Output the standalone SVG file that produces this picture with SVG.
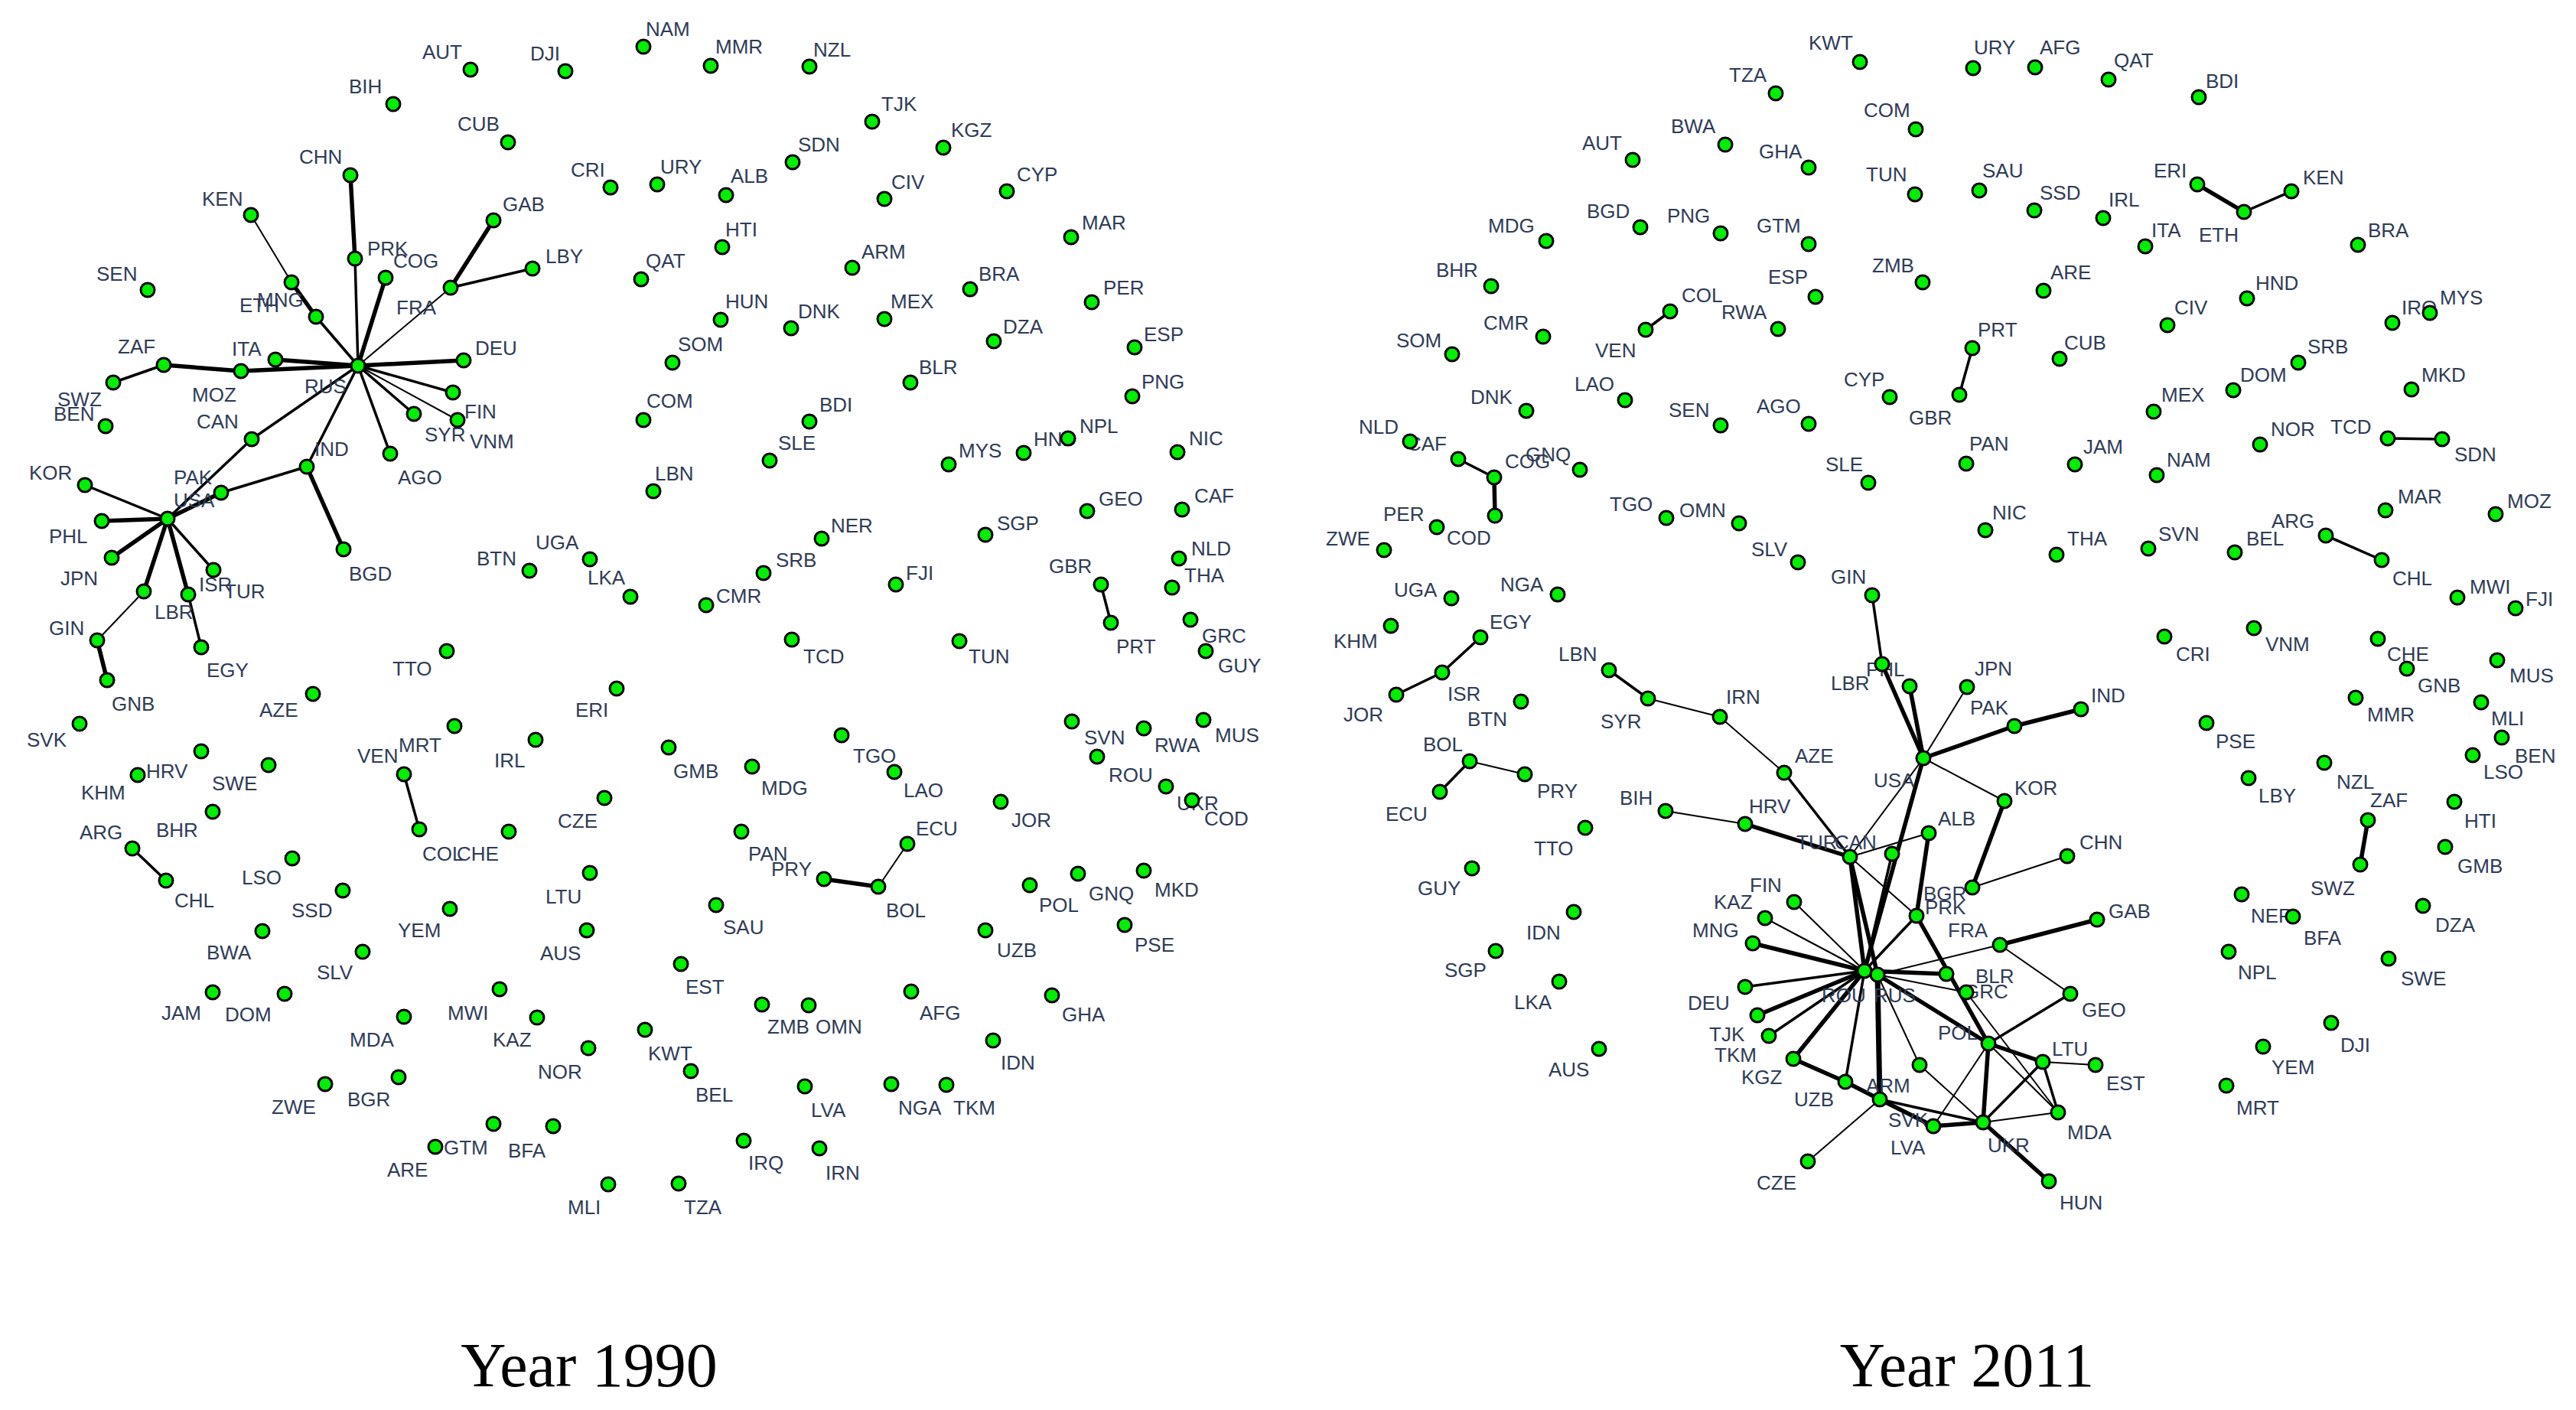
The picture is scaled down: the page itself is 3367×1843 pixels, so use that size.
<svg xmlns="http://www.w3.org/2000/svg" width="3367" height="1843" viewBox="0 0 3367 1843">
<style>
.e line{stroke:#000;stroke-linecap:round}
.s{stroke-width:2}
.m{stroke-width:3.5}
.t{stroke-width:5.5}
.n circle{fill:#00ee00;stroke:#000;stroke-width:3}
.n text{font-family:"Liberation Sans",Arial,sans-serif;font-size:26px;fill:#2e3b57}
.cap{font-family:"Liberation Serif","Times New Roman",serif;font-size:82px;fill:#000;text-anchor:middle}
</style>
<rect width="3367" height="1843" fill="#fff"/>
<g id="edges-1990" class="e">
<line class="t" x1="458" y1="229" x2="464" y2="338"/>
<line class="m" x1="464" y1="338" x2="468" y2="478"/>
<line class="t" x1="504" y1="363" x2="468" y2="478"/>
<line class="s" x1="589" y1="376" x2="468" y2="478"/>
<line class="t" x1="589" y1="376" x2="645" y2="288"/>
<line class="m" x1="589" y1="376" x2="696" y2="351"/>
<line class="s" x1="328" y1="281" x2="381" y2="369"/>
<line class="t" x1="381" y1="369" x2="413" y2="414"/>
<line class="m" x1="413" y1="414" x2="468" y2="478"/>
<line class="t" x1="360" y1="470" x2="468" y2="478"/>
<line class="t" x1="315" y1="485" x2="468" y2="478"/>
<line class="t" x1="214" y1="477" x2="315" y2="485"/>
<line class="m" x1="214" y1="477" x2="148" y2="500"/>
<line class="t" x1="606" y1="471" x2="468" y2="478"/>
<line class="m" x1="592" y1="513" x2="468" y2="478"/>
<line class="s" x1="598" y1="549" x2="468" y2="478"/>
<line class="m" x1="541" y1="541" x2="468" y2="478"/>
<line class="m" x1="510" y1="593" x2="468" y2="478"/>
<line class="m" x1="401" y1="610" x2="468" y2="478"/>
<line class="m" x1="329" y1="574" x2="468" y2="478"/>
<line class="m" x1="219" y1="678" x2="329" y2="574"/>
<line class="t" x1="219" y1="678" x2="289" y2="644"/>
<line class="m" x1="289" y1="644" x2="401" y2="610"/>
<line class="t" x1="401" y1="610" x2="449" y2="718"/>
<line class="m" x1="219" y1="678" x2="111" y2="634"/>
<line class="t" x1="219" y1="678" x2="133" y2="681"/>
<line class="t" x1="219" y1="678" x2="146" y2="729"/>
<line class="t" x1="219" y1="678" x2="188" y2="773"/>
<line class="t" x1="219" y1="678" x2="246" y2="777"/>
<line class="m" x1="219" y1="678" x2="279" y2="745"/>
<line class="s" x1="188" y1="773" x2="127" y2="837"/>
<line class="t" x1="127" y1="837" x2="140" y2="889"/>
<line class="m" x1="246" y1="777" x2="263" y2="846"/>
<line class="m" x1="173" y1="1109" x2="217" y2="1151"/>
<line class="m" x1="528" y1="1012" x2="548" y2="1084"/>
<line class="m" x1="1439" y1="764" x2="1452" y2="814"/>
<line class="t" x1="1077" y1="1149" x2="1148" y2="1159"/>
<line class="s" x1="1148" y1="1159" x2="1186" y2="1103"/>
</g>
<g id="edges-2011" class="e">
<line class="t" x1="2872" y1="241" x2="2933" y2="277"/>
<line class="m" x1="2933" y1="277" x2="2995" y2="250"/>
<line class="m" x1="2183" y1="407" x2="2151" y2="431"/>
<line class="m" x1="2578" y1="455" x2="2561" y2="516"/>
<line class="m" x1="1906" y1="600" x2="1953" y2="624"/>
<line class="t" x1="1953" y1="624" x2="1954" y2="674"/>
<line class="m" x1="3121" y1="573" x2="3192" y2="574"/>
<line class="m" x1="3040" y1="700" x2="3113" y2="732"/>
<line class="t" x1="3095" y1="1072" x2="3085" y2="1130"/>
<line class="m" x1="1935" y1="833" x2="1885" y2="879"/>
<line class="m" x1="1885" y1="879" x2="1825" y2="908"/>
<line class="m" x1="2103" y1="876" x2="2154" y2="913"/>
<line class="s" x1="2154" y1="913" x2="2248" y2="937"/>
<line class="s" x1="1921" y1="995" x2="1993" y2="1012"/>
<line class="m" x1="1921" y1="995" x2="1882" y2="1035"/>
<line class="s" x1="2177" y1="1060" x2="2281" y2="1077"/>
<line class="m" x1="2447" y1="778" x2="2460" y2="868"/>
<line class="t" x1="2460" y1="868" x2="2514" y2="991"/>
<line class="t" x1="2496" y1="897" x2="2514" y2="991"/>
<line class="s" x1="2571" y1="898" x2="2514" y2="991"/>
<line class="t" x1="2633" y1="949" x2="2514" y2="991"/>
<line class="t" x1="2633" y1="949" x2="2720" y2="927"/>
<line class="s" x1="2514" y1="991" x2="2620" y2="1047"/>
<line class="s" x1="2514" y1="991" x2="2418" y2="1120"/>
<line class="t" x1="2514" y1="991" x2="2437" y2="1269"/>
<line class="m" x1="2473" y1="1116" x2="2437" y2="1269"/>
<line class="s" x1="2418" y1="1120" x2="2521" y2="1089"/>
<line class="t" x1="2521" y1="1089" x2="2505" y2="1197"/>
<line class="s" x1="2248" y1="937" x2="2332" y2="1010"/>
<line class="m" x1="2332" y1="1010" x2="2418" y2="1120"/>
<line class="t" x1="2281" y1="1077" x2="2418" y2="1120"/>
<line class="t" x1="2418" y1="1120" x2="2437" y2="1269"/>
<line class="t" x1="2418" y1="1120" x2="2454" y2="1274"/>
<line class="s" x1="2418" y1="1120" x2="2505" y2="1197"/>
<line class="t" x1="2620" y1="1047" x2="2578" y2="1160"/>
<line class="s" x1="2702" y1="1119" x2="2578" y2="1160"/>
<line class="s" x1="2345" y1="1179" x2="2437" y2="1269"/>
<line class="s" x1="2307" y1="1200" x2="2437" y2="1269"/>
<line class="t" x1="2291" y1="1233" x2="2437" y2="1269"/>
<line class="m" x1="2281" y1="1290" x2="2437" y2="1269"/>
<line class="t" x1="2297" y1="1327" x2="2437" y2="1269"/>
<line class="m" x1="2312" y1="1354" x2="2437" y2="1269"/>
<line class="t" x1="2344" y1="1384" x2="2437" y2="1269"/>
<line class="m" x1="2412" y1="1414" x2="2437" y2="1269"/>
<line class="t" x1="2344" y1="1384" x2="2412" y2="1414"/>
<line class="t" x1="2412" y1="1414" x2="2457" y2="1437"/>
<line class="t" style="stroke-width:7" x1="2457" y1="1437" x2="2454" y2="1274"/>
<line class="s" x1="2457" y1="1437" x2="2363" y2="1518"/>
<line class="t" x1="2457" y1="1437" x2="2527" y2="1472"/>
<line class="t" x1="2527" y1="1472" x2="2592" y2="1467"/>
<line class="m" x1="2457" y1="1437" x2="2592" y2="1467"/>
<line class="s" x1="2454" y1="1274" x2="2509" y2="1392"/>
<line class="s" x1="2509" y1="1392" x2="2592" y2="1467"/>
<line class="m" x1="2505" y1="1197" x2="2437" y2="1269"/>
<line class="t" x1="2505" y1="1197" x2="2599" y2="1364"/>
<line class="t" x1="2437" y1="1269" x2="2544" y2="1273"/>
<line class="s" x1="2454" y1="1274" x2="2570" y2="1297"/>
<line class="s" x1="2454" y1="1274" x2="2614" y2="1235"/>
<line class="t" x1="2614" y1="1235" x2="2741" y2="1202"/>
<line class="s" x1="2614" y1="1235" x2="2706" y2="1299"/>
<line class="m" x1="2706" y1="1299" x2="2599" y2="1364"/>
<line class="s" x1="2599" y1="1364" x2="2527" y2="1472"/>
<line class="t" x1="2454" y1="1274" x2="2599" y2="1364"/>
<line class="t" x1="2599" y1="1364" x2="2670" y2="1388"/>
<line class="s" x1="2670" y1="1388" x2="2739" y2="1392"/>
<line class="s" x1="2599" y1="1364" x2="2690" y2="1454"/>
<line class="t" x1="2599" y1="1364" x2="2592" y2="1467"/>
<line class="m" x1="2592" y1="1467" x2="2670" y2="1388"/>
<line class="m" x1="2670" y1="1388" x2="2690" y2="1454"/>
<line class="s" x1="2592" y1="1467" x2="2690" y2="1454"/>
<line class="t" x1="2592" y1="1467" x2="2678" y2="1544"/>
<line class="s" x1="2570" y1="1297" x2="2690" y2="1454"/>
<line class="t" x1="2437" y1="1269" x2="2454" y2="1274"/>
</g>
<g id="nodes-1990">
<g id="n90-AUT" class="n"><text x="552" y="77">AUT</text><circle cx="615" cy="91" r="9"/></g>
<g id="n90-DJI" class="n"><text x="693" y="79">DJI</text><circle cx="739" cy="93" r="9"/></g>
<g id="n90-NAM" class="n"><text x="844" y="47">NAM</text><circle cx="841" cy="61" r="9"/></g>
<g id="n90-MMR" class="n"><text x="935" y="70">MMR</text><circle cx="929" cy="86" r="9"/></g>
<g id="n90-NZL" class="n"><text x="1063" y="74">NZL</text><circle cx="1058" cy="87" r="9"/></g>
<g id="n90-BIH" class="n"><text x="456" y="122">BIH</text><circle cx="514" cy="136" r="9"/></g>
<g id="n90-CUB" class="n"><text x="598" y="171">CUB</text><circle cx="664" cy="186" r="9"/></g>
<g id="n90-TJK" class="n"><text x="1152" y="145">TJK</text><circle cx="1140" cy="159" r="9"/></g>
<g id="n90-KGZ" class="n"><text x="1243" y="179">KGZ</text><circle cx="1233" cy="193" r="9"/></g>
<g id="n90-CHN" class="n"><text x="391" y="214">CHN</text><circle cx="458" cy="229" r="9"/></g>
<g id="n90-CRI" class="n"><text x="746" y="231">CRI</text><circle cx="798" cy="245" r="9"/></g>
<g id="n90-URY" class="n"><text x="863" y="227">URY</text><circle cx="859" cy="241" r="9"/></g>
<g id="n90-ALB" class="n"><text x="955" y="239">ALB</text><circle cx="949" cy="255" r="9"/></g>
<g id="n90-SDN" class="n"><text x="1043" y="198">SDN</text><circle cx="1036" cy="212" r="9"/></g>
<g id="n90-CYP" class="n"><text x="1329" y="237">CYP</text><circle cx="1316" cy="250" r="9"/></g>
<g id="n90-KEN" class="n"><text x="264" y="269">KEN</text><circle cx="328" cy="281" r="9"/></g>
<g id="n90-GAB" class="n"><text x="657" y="276">GAB</text><circle cx="645" cy="288" r="9"/></g>
<g id="n90-PRK" class="n"><text x="480" y="334">PRK</text><circle cx="464" cy="338" r="9"/></g>
<g id="n90-COG" class="n"><text x="514" y="350">COG</text><circle cx="504" cy="363" r="9"/></g>
<g id="n90-HTI" class="n"><text x="948" y="309">HTI</text><circle cx="944" cy="323" r="9"/></g>
<g id="n90-CIV" class="n"><text x="1165" y="247">CIV</text><circle cx="1156" cy="260" r="9"/></g>
<g id="n90-MAR" class="n"><text x="1414" y="300">MAR</text><circle cx="1400" cy="310" r="9"/></g>
<g id="n90-LBY" class="n"><text x="713" y="344">LBY</text><circle cx="696" cy="351" r="9"/></g>
<g id="n90-ETH" class="n"><text x="313" y="408">ETH</text><circle cx="381" cy="369" r="9"/></g>
<g id="n90-MNG" class="n"><text x="336" y="401">MNG</text><circle cx="413" cy="414" r="9"/></g>
<g id="n90-FRA" class="n"><text x="518" y="411">FRA</text><circle cx="589" cy="376" r="9"/></g>
<g id="n90-QAT" class="n"><text x="844" y="350">QAT</text><circle cx="838" cy="365" r="9"/></g>
<g id="n90-ARM" class="n"><text x="1126" y="338">ARM</text><circle cx="1114" cy="350" r="9"/></g>
<g id="n90-BRA" class="n"><text x="1279" y="367">BRA</text><circle cx="1268" cy="378" r="9"/></g>
<g id="n90-PER" class="n"><text x="1442" y="385">PER</text><circle cx="1427" cy="395" r="9"/></g>
<g id="n90-SEN" class="n"><text x="126" y="367">SEN</text><circle cx="193" cy="379" r="9"/></g>
<g id="n90-HUN" class="n"><text x="948" y="403">HUN</text><circle cx="942" cy="418" r="9"/></g>
<g id="n90-DNK" class="n"><text x="1043" y="416">DNK</text><circle cx="1034" cy="429" r="9"/></g>
<g id="n90-MEX" class="n"><text x="1164" y="403">MEX</text><circle cx="1156" cy="417" r="9"/></g>
<g id="n90-DZA" class="n"><text x="1311" y="436">DZA</text><circle cx="1299" cy="446" r="9"/></g>
<g id="n90-ZAF" class="n"><text x="154" y="462">ZAF</text><circle cx="214" cy="477" r="9"/></g>
<g id="n90-ITA" class="n"><text x="303" y="465">ITA</text><circle cx="360" cy="470" r="9"/></g>
<g id="n90-DEU" class="n"><text x="621" y="464">DEU</text><circle cx="606" cy="471" r="9"/></g>
<g id="n90-SOM" class="n"><text x="886" y="459">SOM</text><circle cx="879" cy="474" r="9"/></g>
<g id="n90-ESP" class="n"><text x="1495" y="446">ESP</text><circle cx="1483" cy="454" r="9"/></g>
<g id="n90-RUS" class="n"><text x="398" y="514">RUS</text><circle cx="468" cy="478" r="9"/></g>
<g id="n90-MOZ" class="n"><text x="251" y="525">MOZ</text><circle cx="315" cy="485" r="9"/></g>
<g id="n90-SWZ" class="n"><text x="75" y="531">SWZ</text><circle cx="148" cy="500" r="9"/></g>
<g id="n90-BEN" class="n"><text x="70" y="550">BEN</text><circle cx="138" cy="557" r="9"/></g>
<g id="n90-CAN" class="n"><text x="257" y="560">CAN</text><circle cx="329" cy="574" r="9"/></g>
<g id="n90-FIN" class="n"><text x="607" y="547">FIN</text><circle cx="592" cy="513" r="9"/></g>
<g id="n90-VNM" class="n"><text x="614" y="586">VNM</text><circle cx="598" cy="549" r="9"/></g>
<g id="n90-SYR" class="n"><text x="555" y="577">SYR</text><circle cx="541" cy="541" r="9"/></g>
<g id="n90-COM" class="n"><text x="845" y="533">COM</text><circle cx="841" cy="549" r="9"/></g>
<g id="n90-BDI" class="n"><text x="1071" y="538">BDI</text><circle cx="1058" cy="551" r="9"/></g>
<g id="n90-BLR" class="n"><text x="1201" y="489">BLR</text><circle cx="1190" cy="500" r="9"/></g>
<g id="n90-PNG" class="n"><text x="1492" y="508">PNG</text><circle cx="1480" cy="518" r="9"/></g>
<g id="n90-IND" class="n"><text x="411" y="596">IND</text><circle cx="401" cy="610" r="9"/></g>
<g id="n90-AGO" class="n"><text x="520" y="633">AGO</text><circle cx="510" cy="593" r="9"/></g>
<g id="n90-SLE" class="n"><text x="1017" y="588">SLE</text><circle cx="1006" cy="602" r="9"/></g>
<g id="n90-HND" class="n"><text x="1351" y="583">HND</text><circle cx="1338" cy="592" r="9"/></g>
<g id="n90-NPL" class="n"><text x="1411" y="566">NPL</text><circle cx="1396" cy="573" r="9"/></g>
<g id="n90-MYS" class="n"><text x="1253" y="598">MYS</text><circle cx="1240" cy="607" r="9"/></g>
<g id="n90-NIC" class="n"><text x="1554" y="582">NIC</text><circle cx="1539" cy="591" r="9"/></g>
<g id="n90-LBN" class="n"><text x="856" y="628">LBN</text><circle cx="854" cy="642" r="9"/></g>
<g id="n90-KOR" class="n"><text x="38" y="627">KOR</text><circle cx="111" cy="634" r="9"/></g>
<g id="n90-USA" class="n"><text x="227" y="663">USA</text><circle cx="219" cy="678" r="9"/></g>
<g id="n90-PAK" class="n"><text x="227" y="633">PAK</text><circle cx="289" cy="644" r="9"/></g>
<g id="n90-GEO" class="n"><text x="1436" y="661">GEO</text><circle cx="1421" cy="668" r="9"/></g>
<g id="n90-CAF" class="n"><text x="1561" y="657">CAF</text><circle cx="1545" cy="666" r="9"/></g>
<g id="n90-PHL" class="n"><text x="64" y="710">PHL</text><circle cx="133" cy="681" r="9"/></g>
<g id="n90-SGP" class="n"><text x="1303" y="693">SGP</text><circle cx="1288" cy="699" r="9"/></g>
<g id="n90-NER" class="n"><text x="1086" y="696">NER</text><circle cx="1074" cy="704" r="9"/></g>
<g id="n90-JPN" class="n"><text x="79" y="765">JPN</text><circle cx="146" cy="729" r="9"/></g>
<g id="n90-BGD" class="n"><text x="456" y="759">BGD</text><circle cx="449" cy="718" r="9"/></g>
<g id="n90-BTN" class="n"><text x="623" y="739">BTN</text><circle cx="692" cy="746" r="9"/></g>
<g id="n90-UGA" class="n"><text x="700" y="718">UGA</text><circle cx="771" cy="731" r="9"/></g>
<g id="n90-SRB" class="n"><text x="1014" y="741">SRB</text><circle cx="998" cy="749" r="9"/></g>
<g id="n90-ISR" class="n"><text x="260" y="773">ISR</text><circle cx="279" cy="745" r="9"/></g>
<g id="n90-TUR" class="n"><text x="293" y="782">TUR</text><circle cx="246" cy="777" r="9"/></g>
<g id="n90-LKA" class="n"><text x="768" y="764">LKA</text><circle cx="824" cy="780" r="9"/></g>
<g id="n90-CMR" class="n"><text x="936" y="788">CMR</text><circle cx="923" cy="791" r="9"/></g>
<g id="n90-FJI" class="n"><text x="1184" y="758">FJI</text><circle cx="1171" cy="764" r="9"/></g>
<g id="n90-GBR" class="n"><text x="1371" y="749">GBR</text><circle cx="1439" cy="764" r="9"/></g>
<g id="n90-NLD" class="n"><text x="1557" y="726">NLD</text><circle cx="1541" cy="730" r="9"/></g>
<g id="n90-THA" class="n"><text x="1548" y="761">THA</text><circle cx="1532" cy="768" r="9"/></g>
<g id="n90-LBR" class="n"><text x="202" y="809">LBR</text><circle cx="188" cy="773" r="9"/></g>
<g id="n90-GIN" class="n"><text x="64" y="830">GIN</text><circle cx="127" cy="837" r="9"/></g>
<g id="n90-EGY" class="n"><text x="270" y="885">EGY</text><circle cx="263" cy="846" r="9"/></g>
<g id="n90-TCD" class="n"><text x="1050" y="867">TCD</text><circle cx="1035" cy="836" r="9"/></g>
<g id="n90-TUN" class="n"><text x="1266" y="867">TUN</text><circle cx="1254" cy="838" r="9"/></g>
<g id="n90-PRT" class="n"><text x="1459" y="854">PRT</text><circle cx="1452" cy="814" r="9"/></g>
<g id="n90-GRC" class="n"><text x="1571" y="840">GRC</text><circle cx="1556" cy="810" r="9"/></g>
<g id="n90-GUY" class="n"><text x="1592" y="879">GUY</text><circle cx="1576" cy="851" r="9"/></g>
<g id="n90-TTO" class="n"><text x="513" y="883">TTO</text><circle cx="584" cy="851" r="9"/></g>
<g id="n90-GNB" class="n"><text x="146" y="929">GNB</text><circle cx="140" cy="889" r="9"/></g>
<g id="n90-AZE" class="n"><text x="339" y="937">AZE</text><circle cx="409" cy="907" r="9"/></g>
<g id="n90-ERI" class="n"><text x="752" y="937">ERI</text><circle cx="806" cy="900" r="9"/></g>
<g id="n90-SVK" class="n"><text x="35" y="976">SVK</text><circle cx="104" cy="946" r="9"/></g>
<g id="n90-SVN" class="n"><text x="1417" y="973">SVN</text><circle cx="1401" cy="943" r="9"/></g>
<g id="n90-MUS" class="n"><text x="1588" y="970">MUS</text><circle cx="1573" cy="941" r="9"/></g>
<g id="n90-RWA" class="n"><text x="1509" y="983">RWA</text><circle cx="1495" cy="952" r="9"/></g>
<g id="n90-HRV" class="n"><text x="191" y="1017">HRV</text><circle cx="263" cy="982" r="9"/></g>
<g id="n90-VEN" class="n"><text x="467" y="997">VEN</text><circle cx="528" cy="1012" r="9"/></g>
<g id="n90-MRT" class="n"><text x="521" y="983">MRT</text><circle cx="594" cy="949" r="9"/></g>
<g id="n90-IRL" class="n"><text x="646" y="1003">IRL</text><circle cx="700" cy="967" r="9"/></g>
<g id="n90-ROU" class="n"><text x="1449" y="1022">ROU</text><circle cx="1434" cy="989" r="9"/></g>
<g id="n90-TGO" class="n"><text x="1115" y="997">TGO</text><circle cx="1100" cy="961" r="9"/></g>
<g id="n90-UKR" class="n"><text x="1538" y="1059">UKR</text><circle cx="1524" cy="1028" r="9"/></g>
<g id="n90-COD" class="n"><text x="1574" y="1079">COD</text><circle cx="1558" cy="1046" r="9"/></g>
<g id="n90-KHM" class="n"><text x="106" y="1045">KHM</text><circle cx="180" cy="1013" r="9"/></g>
<g id="n90-SWE" class="n"><text x="277" y="1033">SWE</text><circle cx="351" cy="1000" r="9"/></g>
<g id="n90-GMB" class="n"><text x="880" y="1017">GMB</text><circle cx="874" cy="977" r="9"/></g>
<g id="n90-MDG" class="n"><text x="995" y="1039">MDG</text><circle cx="983" cy="1002" r="9"/></g>
<g id="n90-LAO" class="n"><text x="1181" y="1042">LAO</text><circle cx="1169" cy="1009" r="9"/></g>
<g id="n90-JOR" class="n"><text x="1322" y="1081">JOR</text><circle cx="1308" cy="1048" r="9"/></g>
<g id="n90-BHR" class="n"><text x="204" y="1094">BHR</text><circle cx="278" cy="1061" r="9"/></g>
<g id="n90-COL" class="n"><text x="552" y="1125">COL</text><circle cx="548" cy="1084" r="9"/></g>
<g id="n90-CHE" class="n"><text x="597" y="1125">CHE</text><circle cx="665" cy="1087" r="9"/></g>
<g id="n90-CZE" class="n"><text x="729" y="1082">CZE</text><circle cx="790" cy="1043" r="9"/></g>
<g id="n90-ECU" class="n"><text x="1197" y="1092">ECU</text><circle cx="1186" cy="1103" r="9"/></g>
<g id="n90-ARG" class="n"><text x="104" y="1097">ARG</text><circle cx="173" cy="1109" r="9"/></g>
<g id="n90-PAN" class="n"><text x="978" y="1125">PAN</text><circle cx="969" cy="1087" r="9"/></g>
<g id="n90-PRY" class="n"><text x="1008" y="1145">PRY</text><circle cx="1077" cy="1149" r="9"/></g>
<g id="n90-CHL" class="n"><text x="228" y="1186">CHL</text><circle cx="217" cy="1151" r="9"/></g>
<g id="n90-LSO" class="n"><text x="316" y="1156">LSO</text><circle cx="382" cy="1122" r="9"/></g>
<g id="n90-LTU" class="n"><text x="713" y="1181">LTU</text><circle cx="771" cy="1141" r="9"/></g>
<g id="n90-BOL" class="n"><text x="1158" y="1199">BOL</text><circle cx="1148" cy="1159" r="9"/></g>
<g id="n90-POL" class="n"><text x="1358" y="1192">POL</text><circle cx="1346" cy="1157" r="9"/></g>
<g id="n90-GNQ" class="n"><text x="1423" y="1177">GNQ</text><circle cx="1409" cy="1142" r="9"/></g>
<g id="n90-MKD" class="n"><text x="1509" y="1172">MKD</text><circle cx="1495" cy="1138" r="9"/></g>
<g id="n90-SSD" class="n"><text x="381" y="1199">SSD</text><circle cx="448" cy="1164" r="9"/></g>
<g id="n90-YEM" class="n"><text x="520" y="1225">YEM</text><circle cx="588" cy="1188" r="9"/></g>
<g id="n90-SAU" class="n"><text x="945" y="1221">SAU</text><circle cx="936" cy="1183" r="9"/></g>
<g id="n90-UZB" class="n"><text x="1303" y="1251">UZB</text><circle cx="1288" cy="1216" r="9"/></g>
<g id="n90-PSE" class="n"><text x="1483" y="1244">PSE</text><circle cx="1470" cy="1209" r="9"/></g>
<g id="n90-BWA" class="n"><text x="270" y="1254">BWA</text><circle cx="343" cy="1217" r="9"/></g>
<g id="n90-AUS" class="n"><text x="706" y="1255">AUS</text><circle cx="767" cy="1216" r="9"/></g>
<g id="n90-SLV" class="n"><text x="414" y="1280">SLV</text><circle cx="474" cy="1244" r="9"/></g>
<g id="n90-EST" class="n"><text x="896" y="1299">EST</text><circle cx="890" cy="1260" r="9"/></g>
<g id="n90-AFG" class="n"><text x="1202" y="1333">AFG</text><circle cx="1191" cy="1296" r="9"/></g>
<g id="n90-GHA" class="n"><text x="1388" y="1335">GHA</text><circle cx="1375" cy="1301" r="9"/></g>
<g id="n90-JAM" class="n"><text x="211" y="1333">JAM</text><circle cx="278" cy="1297" r="9"/></g>
<g id="n90-DOM" class="n"><text x="294" y="1335">DOM</text><circle cx="372" cy="1299" r="9"/></g>
<g id="n90-MWI" class="n"><text x="585" y="1333">MWI</text><circle cx="653" cy="1293" r="9"/></g>
<g id="n90-ZMB" class="n"><text x="1003" y="1351">ZMB</text><circle cx="996" cy="1313" r="9"/></g>
<g id="n90-OMN" class="n"><text x="1066" y="1351">OMN</text><circle cx="1057" cy="1314" r="9"/></g>
<g id="n90-MDA" class="n"><text x="457" y="1368">MDA</text><circle cx="528" cy="1329" r="9"/></g>
<g id="n90-KAZ" class="n"><text x="644" y="1368">KAZ</text><circle cx="702" cy="1330" r="9"/></g>
<g id="n90-KWT" class="n"><text x="847" y="1386">KWT</text><circle cx="843" cy="1346" r="9"/></g>
<g id="n90-NOR" class="n"><text x="703" y="1410">NOR</text><circle cx="769" cy="1370" r="9"/></g>
<g id="n90-BEL" class="n"><text x="909" y="1440">BEL</text><circle cx="903" cy="1400" r="9"/></g>
<g id="n90-IDN" class="n"><text x="1308" y="1398">IDN</text><circle cx="1298" cy="1360" r="9"/></g>
<g id="n90-NGA" class="n"><text x="1174" y="1457">NGA</text><circle cx="1165" cy="1417" r="9"/></g>
<g id="n90-TKM" class="n"><text x="1246" y="1457">TKM</text><circle cx="1237" cy="1418" r="9"/></g>
<g id="n90-ZWE" class="n"><text x="355" y="1456">ZWE</text><circle cx="425" cy="1417" r="9"/></g>
<g id="n90-BGR" class="n"><text x="454" y="1446">BGR</text><circle cx="521" cy="1408" r="9"/></g>
<g id="n90-LVA" class="n"><text x="1060" y="1460">LVA</text><circle cx="1052" cy="1420" r="9"/></g>
<g id="n90-ARE" class="n"><text x="506" y="1538">ARE</text><circle cx="569" cy="1499" r="9"/></g>
<g id="n90-GTM" class="n"><text x="580" y="1509">GTM</text><circle cx="645" cy="1469" r="9"/></g>
<g id="n90-BFA" class="n"><text x="664" y="1513">BFA</text><circle cx="723" cy="1472" r="9"/></g>
<g id="n90-IRQ" class="n"><text x="978" y="1529">IRQ</text><circle cx="972" cy="1491" r="9"/></g>
<g id="n90-IRN" class="n"><text x="1079" y="1542">IRN</text><circle cx="1071" cy="1501" r="9"/></g>
<g id="n90-MLI" class="n"><text x="742" y="1587">MLI</text><circle cx="795" cy="1548" r="9"/></g>
<g id="n90-TZA" class="n"><text x="894" y="1587">TZA</text><circle cx="887" cy="1547" r="9"/></g>
</g>
<g id="nodes-2011">
<g id="n11-KWT" class="n"><text x="2364" y="65">KWT</text><circle cx="2431" cy="81" r="9"/></g>
<g id="n11-TZA" class="n"><text x="2260" y="107">TZA</text><circle cx="2321" cy="122" r="9"/></g>
<g id="n11-URY" class="n"><text x="2580" y="71">URY</text><circle cx="2579" cy="89" r="9"/></g>
<g id="n11-AFG" class="n"><text x="2666" y="71">AFG</text><circle cx="2660" cy="88" r="9"/></g>
<g id="n11-QAT" class="n"><text x="2763" y="88">QAT</text><circle cx="2756" cy="104" r="9"/></g>
<g id="n11-BDI" class="n"><text x="2883" y="115">BDI</text><circle cx="2874" cy="127" r="9"/></g>
<g id="n11-COM" class="n"><text x="2436" y="153">COM</text><circle cx="2504" cy="169" r="9"/></g>
<g id="n11-AUT" class="n"><text x="2068" y="196">AUT</text><circle cx="2134" cy="209" r="9"/></g>
<g id="n11-BWA" class="n"><text x="2184" y="174">BWA</text><circle cx="2255" cy="189" r="9"/></g>
<g id="n11-GHA" class="n"><text x="2299" y="207">GHA</text><circle cx="2364" cy="219" r="9"/></g>
<g id="n11-TUN" class="n"><text x="2439" y="237">TUN</text><circle cx="2503" cy="254" r="9"/></g>
<g id="n11-SAU" class="n"><text x="2591" y="232">SAU</text><circle cx="2587" cy="249" r="9"/></g>
<g id="n11-SSD" class="n"><text x="2666" y="261">SSD</text><circle cx="2659" cy="275" r="9"/></g>
<g id="n11-IRL" class="n"><text x="2756" y="270">IRL</text><circle cx="2749" cy="285" r="9"/></g>
<g id="n11-ERI" class="n"><text x="2815" y="232">ERI</text><circle cx="2872" cy="241" r="9"/></g>
<g id="n11-ETH" class="n"><text x="2874" y="316">ETH</text><circle cx="2933" cy="277" r="9"/></g>
<g id="n11-KEN" class="n"><text x="3010" y="241">KEN</text><circle cx="2995" cy="250" r="9"/></g>
<g id="n11-ITA" class="n"><text x="2812" y="310">ITA</text><circle cx="2804" cy="322" r="9"/></g>
<g id="n11-MDG" class="n"><text x="1945" y="304">MDG</text><circle cx="2021" cy="315" r="9"/></g>
<g id="n11-BGD" class="n"><text x="2074" y="285">BGD</text><circle cx="2144" cy="297" r="9"/></g>
<g id="n11-PNG" class="n"><text x="2179" y="291">PNG</text><circle cx="2249" cy="305" r="9"/></g>
<g id="n11-GTM" class="n"><text x="2296" y="304">GTM</text><circle cx="2364" cy="319" r="9"/></g>
<g id="n11-BRA" class="n"><text x="3095" y="310">BRA</text><circle cx="3082" cy="320" r="9"/></g>
<g id="n11-BHR" class="n"><text x="1877" y="362">BHR</text><circle cx="1949" cy="374" r="9"/></g>
<g id="n11-ESP" class="n"><text x="2311" y="371">ESP</text><circle cx="2373" cy="388" r="9"/></g>
<g id="n11-ZMB" class="n"><text x="2447" y="356">ZMB</text><circle cx="2513" cy="369" r="9"/></g>
<g id="n11-ARE" class="n"><text x="2680" y="365">ARE</text><circle cx="2671" cy="380" r="9"/></g>
<g id="n11-HND" class="n"><text x="2948" y="379">HND</text><circle cx="2937" cy="390" r="9"/></g>
<g id="n11-CMR" class="n"><text x="1939" y="431">CMR</text><circle cx="2017" cy="440" r="9"/></g>
<g id="n11-COL" class="n"><text x="2198" y="395">COL</text><circle cx="2183" cy="407" r="9"/></g>
<g id="n11-IRQ" class="n"><text x="3139" y="411">IRQ</text><circle cx="3127" cy="422" r="9"/></g>
<g id="n11-MYS" class="n"><text x="3189" y="398">MYS</text><circle cx="3176" cy="409" r="9"/></g>
<g id="n11-SOM" class="n"><text x="1825" y="454">SOM</text><circle cx="1898" cy="463" r="9"/></g>
<g id="n11-VEN" class="n"><text x="2085" y="467">VEN</text><circle cx="2151" cy="431" r="9"/></g>
<g id="n11-RWA" class="n"><text x="2250" y="417">RWA</text><circle cx="2324" cy="430" r="9"/></g>
<g id="n11-CIV" class="n"><text x="2842" y="411">CIV</text><circle cx="2833" cy="425" r="9"/></g>
<g id="n11-PRT" class="n"><text x="2585" y="440">PRT</text><circle cx="2578" cy="455" r="9"/></g>
<g id="n11-CUB" class="n"><text x="2698" y="457">CUB</text><circle cx="2692" cy="469" r="9"/></g>
<g id="n11-SRB" class="n"><text x="3016" y="462">SRB</text><circle cx="3004" cy="474" r="9"/></g>
<g id="n11-DNK" class="n"><text x="1922" y="528">DNK</text><circle cx="1995" cy="537" r="9"/></g>
<g id="n11-LAO" class="n"><text x="2058" y="511">LAO</text><circle cx="2124" cy="523" r="9"/></g>
<g id="n11-DOM" class="n"><text x="2928" y="499">DOM</text><circle cx="2919" cy="510" r="9"/></g>
<g id="n11-MKD" class="n"><text x="3165" y="499">MKD</text><circle cx="3152" cy="509" r="9"/></g>
<g id="n11-MEX" class="n"><text x="2825" y="525">MEX</text><circle cx="2815" cy="538" r="9"/></g>
<g id="n11-SEN" class="n"><text x="2181" y="545">SEN</text><circle cx="2249" cy="556" r="9"/></g>
<g id="n11-AGO" class="n"><text x="2296" y="540">AGO</text><circle cx="2364" cy="554" r="9"/></g>
<g id="n11-CYP" class="n"><text x="2410" y="505">CYP</text><circle cx="2470" cy="519" r="9"/></g>
<g id="n11-GBR" class="n"><text x="2495" y="555">GBR</text><circle cx="2561" cy="516" r="9"/></g>
<g id="n11-CAF" class="n"><text x="1839" y="589">CAF</text><circle cx="1906" cy="600" r="9"/></g>
<g id="n11-NLD" class="n"><text x="1776" y="567">NLD</text><circle cx="1843" cy="577" r="9"/></g>
<g id="n11-GNQ" class="n"><text x="1994" y="603">GNQ</text><circle cx="2065" cy="614" r="9"/></g>
<g id="n11-COG" class="n"><text x="1967" y="612">COG</text><circle cx="1953" cy="624" r="9"/></g>
<g id="n11-SLE" class="n"><text x="2386" y="616">SLE</text><circle cx="2442" cy="631" r="9"/></g>
<g id="n11-JAM" class="n"><text x="2723" y="593">JAM</text><circle cx="2712" cy="607" r="9"/></g>
<g id="n11-PAN" class="n"><text x="2574" y="589">PAN</text><circle cx="2570" cy="606" r="9"/></g>
<g id="n11-NAM" class="n"><text x="2832" y="610">NAM</text><circle cx="2819" cy="621" r="9"/></g>
<g id="n11-NOR" class="n"><text x="2968" y="570">NOR</text><circle cx="2954" cy="581" r="9"/></g>
<g id="n11-TCD" class="n"><text x="3046" y="567">TCD</text><circle cx="3121" cy="573" r="9"/></g>
<g id="n11-SDN" class="n"><text x="3208" y="603">SDN</text><circle cx="3192" cy="574" r="9"/></g>
<g id="n11-TGO" class="n"><text x="2104" y="668">TGO</text><circle cx="2178" cy="677" r="9"/></g>
<g id="n11-OMN" class="n"><text x="2195" y="676">OMN</text><circle cx="2273" cy="684" r="9"/></g>
<g id="n11-NIC" class="n"><text x="2604" y="679">NIC</text><circle cx="2595" cy="693" r="9"/></g>
<g id="n11-PER" class="n"><text x="1808" y="681">PER</text><circle cx="1878" cy="689" r="9"/></g>
<g id="n11-COD" class="n"><text x="1891" y="712">COD</text><circle cx="1954" cy="674" r="9"/></g>
<g id="n11-ZWE" class="n"><text x="1733" y="713">ZWE</text><circle cx="1809" cy="719" r="9"/></g>
<g id="n11-SLV" class="n"><text x="2289" y="727">SLV</text><circle cx="2350" cy="735" r="9"/></g>
<g id="n11-THA" class="n"><text x="2702" y="713">THA</text><circle cx="2688" cy="725" r="9"/></g>
<g id="n11-SVN" class="n"><text x="2821" y="707">SVN</text><circle cx="2808" cy="717" r="9"/></g>
<g id="n11-BEL" class="n"><text x="2936" y="713">BEL</text><circle cx="2921" cy="722" r="9"/></g>
<g id="n11-ARG" class="n"><text x="2969" y="690">ARG</text><circle cx="3040" cy="700" r="9"/></g>
<g id="n11-CHL" class="n"><text x="3127" y="765">CHL</text><circle cx="3113" cy="732" r="9"/></g>
<g id="n11-MAR" class="n"><text x="3134" y="658">MAR</text><circle cx="3118" cy="667" r="9"/></g>
<g id="n11-MOZ" class="n"><text x="3277" y="664">MOZ</text><circle cx="3262" cy="672" r="9"/></g>
<g id="n11-UGA" class="n"><text x="1822" y="780">UGA</text><circle cx="1897" cy="782" r="9"/></g>
<g id="n11-NGA" class="n"><text x="1961" y="773">NGA</text><circle cx="2036" cy="777" r="9"/></g>
<g id="n11-GIN" class="n"><text x="2393" y="763">GIN</text><circle cx="2447" cy="778" r="9"/></g>
<g id="n11-MWI" class="n"><text x="3228" y="776">MWI</text><circle cx="3212" cy="781" r="9"/></g>
<g id="n11-FJI" class="n"><text x="3301" y="792">FJI</text><circle cx="3288" cy="795" r="9"/></g>
<g id="n11-KHM" class="n"><text x="1743" y="847">KHM</text><circle cx="1818" cy="818" r="9"/></g>
<g id="n11-EGY" class="n"><text x="1947" y="822">EGY</text><circle cx="1935" cy="833" r="9"/></g>
<g id="n11-CRI" class="n"><text x="2844" y="864">CRI</text><circle cx="2829" cy="832" r="9"/></g>
<g id="n11-VNM" class="n"><text x="2961" y="851">VNM</text><circle cx="2946" cy="821" r="9"/></g>
<g id="n11-CHE" class="n"><text x="3120" y="864">CHE</text><circle cx="3108" cy="835" r="9"/></g>
<g id="n11-GNB" class="n"><text x="3160" y="905">GNB</text><circle cx="3146" cy="874" r="9"/></g>
<g id="n11-MUS" class="n"><text x="3280" y="892">MUS</text><circle cx="3264" cy="863" r="9"/></g>
<g id="n11-LBN" class="n"><text x="2037" y="864">LBN</text><circle cx="2103" cy="876" r="9"/></g>
<g id="n11-ISR" class="n"><text x="1892" y="916">ISR</text><circle cx="1885" cy="879" r="9"/></g>
<g id="n11-JOR" class="n"><text x="1756" y="943">JOR</text><circle cx="1825" cy="908" r="9"/></g>
<g id="n11-BTN" class="n"><text x="1918" y="949">BTN</text><circle cx="1988" cy="917" r="9"/></g>
<g id="n11-PHL" class="n"><text x="2439" y="884">PHL</text><circle cx="2460" cy="868" r="9"/></g>
<g id="n11-LBR" class="n"><text x="2393" y="902">LBR</text><circle cx="2496" cy="897" r="9"/></g>
<g id="n11-JPN" class="n"><text x="2581" y="883">JPN</text><circle cx="2571" cy="898" r="9"/></g>
<g id="n11-SYR" class="n"><text x="2092" y="952">SYR</text><circle cx="2154" cy="913" r="9"/></g>
<g id="n11-IRN" class="n"><text x="2256" y="920">IRN</text><circle cx="2248" cy="937" r="9"/></g>
<g id="n11-IND" class="n"><text x="2733" y="918">IND</text><circle cx="2720" cy="927" r="9"/></g>
<g id="n11-PAK" class="n"><text x="2575" y="934">PAK</text><circle cx="2633" cy="949" r="9"/></g>
<g id="n11-USA" class="n"><text x="2449" y="1029">USA</text><circle cx="2514" cy="991" r="9"/></g>
<g id="n11-MMR" class="n"><text x="3094" y="943">MMR</text><circle cx="3079" cy="912" r="9"/></g>
<g id="n11-MLI" class="n"><text x="3256" y="948">MLI</text><circle cx="3243" cy="918" r="9"/></g>
<g id="n11-BOL" class="n"><text x="1860" y="982">BOL</text><circle cx="1921" cy="995" r="9"/></g>
<g id="n11-PRY" class="n"><text x="2009" y="1043">PRY</text><circle cx="1993" cy="1012" r="9"/></g>
<g id="n11-ECU" class="n"><text x="1811" y="1073">ECU</text><circle cx="1882" cy="1035" r="9"/></g>
<g id="n11-AZE" class="n"><text x="2346" y="997">AZE</text><circle cx="2332" cy="1010" r="9"/></g>
<g id="n11-KOR" class="n"><text x="2633" y="1039">KOR</text><circle cx="2620" cy="1047" r="9"/></g>
<g id="n11-PSE" class="n"><text x="2896" y="978">PSE</text><circle cx="2884" cy="945" r="9"/></g>
<g id="n11-LBY" class="n"><text x="2952" y="1049">LBY</text><circle cx="2939" cy="1017" r="9"/></g>
<g id="n11-BEN" class="n"><text x="3287" y="997">BEN</text><circle cx="3270" cy="964" r="9"/></g>
<g id="n11-LSO" class="n"><text x="3246" y="1018">LSO</text><circle cx="3232" cy="987" r="9"/></g>
<g id="n11-BIH" class="n"><text x="2117" y="1052">BIH</text><circle cx="2177" cy="1060" r="9"/></g>
<g id="n11-HRV" class="n"><text x="2286" y="1063">HRV</text><circle cx="2281" cy="1077" r="9"/></g>
<g id="n11-TUR" class="n"><text x="2348" y="1110">TUR</text><circle cx="2418" cy="1120" r="9"/></g>
<g id="n11-CAN" class="n"><text x="2398" y="1110">CAN</text><circle cx="2473" cy="1116" r="9"/></g>
<g id="n11-ALB" class="n"><text x="2533" y="1079">ALB</text><circle cx="2521" cy="1089" r="9"/></g>
<g id="n11-CHN" class="n"><text x="2718" y="1110">CHN</text><circle cx="2702" cy="1119" r="9"/></g>
<g id="n11-NZL" class="n"><text x="3054" y="1031">NZL</text><circle cx="3038" cy="997" r="9"/></g>
<g id="n11-ZAF" class="n"><text x="3098" y="1055">ZAF</text><circle cx="3095" cy="1072" r="9"/></g>
<g id="n11-HTI" class="n"><text x="3221" y="1082">HTI</text><circle cx="3208" cy="1048" r="9"/></g>
<g id="n11-TTO" class="n"><text x="2005" y="1118">TTO</text><circle cx="2072" cy="1082" r="9"/></g>
<g id="n11-GAB" class="n"><text x="2756" y="1200">GAB</text><circle cx="2741" cy="1202" r="9"/></g>
<g id="n11-FIN" class="n"><text x="2287" y="1166">FIN</text><circle cx="2345" cy="1179" r="9"/></g>
<g id="n11-KAZ" class="n"><text x="2240" y="1188">KAZ</text><circle cx="2307" cy="1200" r="9"/></g>
<g id="n11-BGR" class="n"><text x="2514" y="1177">BGR</text><circle cx="2578" cy="1160" r="9"/></g>
<g id="n11-PRK" class="n"><text x="2516" y="1195">PRK</text><circle cx="2505" cy="1197" r="9"/></g>
<g id="n11-MNG" class="n"><text x="2212" y="1225">MNG</text><circle cx="2291" cy="1233" r="9"/></g>
<g id="n11-FRA" class="n"><text x="2546" y="1225">FRA</text><circle cx="2614" cy="1235" r="9"/></g>
<g id="n11-GMB" class="n"><text x="3212" y="1141">GMB</text><circle cx="3196" cy="1107" r="9"/></g>
<g id="n11-GUY" class="n"><text x="1853" y="1170">GUY</text><circle cx="1924" cy="1135" r="9"/></g>
<g id="n11-IDN" class="n"><text x="1995" y="1228">IDN</text><circle cx="2057" cy="1192" r="9"/></g>
<g id="n11-SWZ" class="n"><text x="3020" y="1170">SWZ</text><circle cx="3085" cy="1130" r="9"/></g>
<g id="n11-NER" class="n"><text x="2942" y="1206">NER</text><circle cx="2930" cy="1169" r="9"/></g>
<g id="n11-BFA" class="n"><text x="3011" y="1235">BFA</text><circle cx="2997" cy="1198" r="9"/></g>
<g id="n11-DZA" class="n"><text x="3183" y="1218">DZA</text><circle cx="3167" cy="1184" r="9"/></g>
<g id="n11-DEU" class="n"><text x="2206" y="1320">DEU</text><circle cx="2281" cy="1290" r="9"/></g>
<g id="n11-ROU" class="n"><text x="2381" y="1310">ROU</text><circle cx="2437" cy="1269" r="9"/></g>
<g id="n11-RUS" class="n"><text x="2449" y="1310">RUS</text><circle cx="2454" cy="1274" r="9"/></g>
<g id="n11-BLR" class="n"><text x="2582" y="1285">BLR</text><circle cx="2544" cy="1273" r="9"/></g>
<g id="n11-GRC" class="n"><text x="2567" y="1305">GRC</text><circle cx="2570" cy="1297" r="9"/></g>
<g id="n11-GEO" class="n"><text x="2721" y="1329">GEO</text><circle cx="2706" cy="1299" r="9"/></g>
<g id="n11-SGP" class="n"><text x="1888" y="1277">SGP</text><circle cx="1955" cy="1243" r="9"/></g>
<g id="n11-TJK" class="n"><text x="2234" y="1361">TJK</text><circle cx="2297" cy="1327" r="9"/></g>
<g id="n11-TKM" class="n"><text x="2241" y="1388">TKM</text><circle cx="2312" cy="1354" r="9"/></g>
<g id="n11-POL" class="n"><text x="2533" y="1359">POL</text><circle cx="2599" cy="1364" r="9"/></g>
<g id="n11-LTU" class="n"><text x="2682" y="1380">LTU</text><circle cx="2670" cy="1388" r="9"/></g>
<g id="n11-EST" class="n"><text x="2753" y="1425">EST</text><circle cx="2739" cy="1392" r="9"/></g>
<g id="n11-NPL" class="n"><text x="2925" y="1280">NPL</text><circle cx="2913" cy="1244" r="9"/></g>
<g id="n11-SWE" class="n"><text x="3138" y="1288">SWE</text><circle cx="3122" cy="1253" r="9"/></g>
<g id="n11-KGZ" class="n"><text x="2276" y="1417">KGZ</text><circle cx="2344" cy="1384" r="9"/></g>
<g id="n11-UZB" class="n"><text x="2345" y="1446">UZB</text><circle cx="2412" cy="1414" r="9"/></g>
<g id="n11-ARM" class="n"><text x="2439" y="1428">ARM</text><circle cx="2457" cy="1437" r="9"/></g>
<g id="n11-LVA" class="n"><text x="2471" y="1509">LVA</text><circle cx="2509" cy="1392" r="9"/></g>
<g id="n11-SVK" class="n"><text x="2468" y="1473">SVK</text><circle cx="2527" cy="1472" r="9"/></g>
<g id="n11-UKR" class="n"><text x="2598" y="1506">UKR</text><circle cx="2592" cy="1467" r="9"/></g>
<g id="n11-MDA" class="n"><text x="2702" y="1489">MDA</text><circle cx="2690" cy="1454" r="9"/></g>
<g id="n11-LKA" class="n"><text x="1979" y="1319">LKA</text><circle cx="2038" cy="1283" r="9"/></g>
<g id="n11-DJI" class="n"><text x="3059" y="1375">DJI</text><circle cx="3047" cy="1337" r="9"/></g>
<g id="n11-AUS" class="n"><text x="2024" y="1407">AUS</text><circle cx="2090" cy="1371" r="9"/></g>
<g id="n11-YEM" class="n"><text x="2969" y="1404">YEM</text><circle cx="2958" cy="1368" r="9"/></g>
<g id="n11-CZE" class="n"><text x="2296" y="1555">CZE</text><circle cx="2363" cy="1518" r="9"/></g>
<g id="n11-HUN" class="n"><text x="2692" y="1581">HUN</text><circle cx="2678" cy="1544" r="9"/></g>
<g id="n11-MRT" class="n"><text x="2923" y="1457">MRT</text><circle cx="2910" cy="1419" r="9"/></g>
</g>
<g id="captions">
<text class="cap" x="770" y="1812">Year 1990</text>
<text class="cap" x="2571" y="1812">Year 2011</text>
</g>
</svg>
